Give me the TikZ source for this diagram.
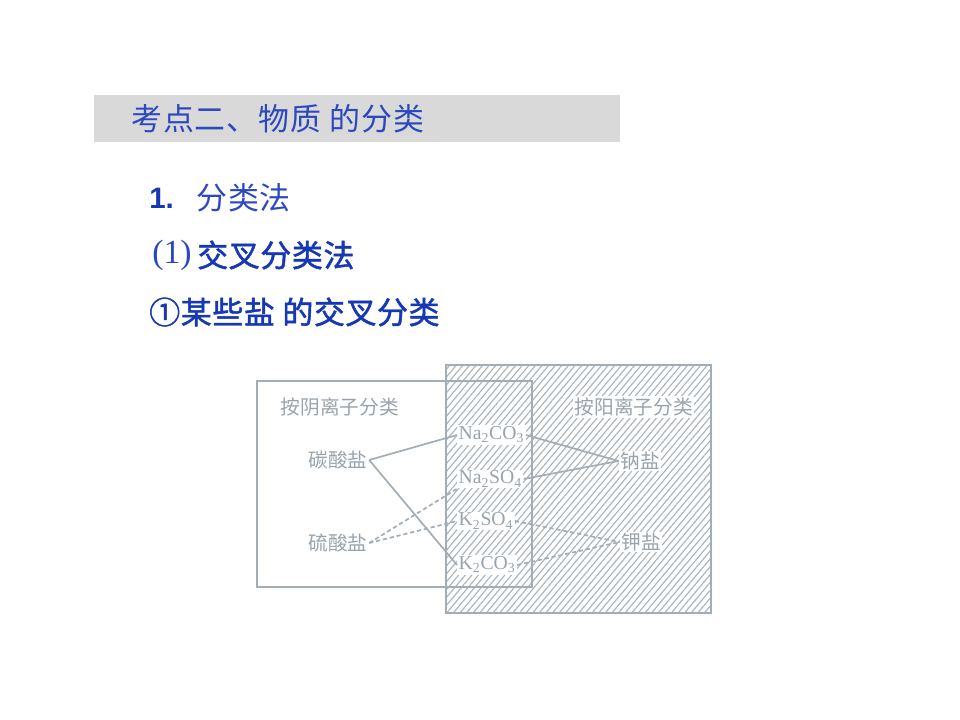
\documentclass[tikz,border=0pt]{standalone}
\usepackage{fontspec}
\setmainfont{Liberation Serif}
\newfontfamily\cjk[LetterSpace=3]{Noto Sans CJK SC}
\newfontfamily\cjkb[LetterSpace=2,FakeBold=1.6]{Noto Sans CJK SC}
\newfontfamily\cjkd{Noto Sans CJK SC}
\newfontfamily\arial{Liberation Sans}
\usetikzlibrary{patterns.meta}
\definecolor{hdr}{HTML}{D9D9D9}
\definecolor{tblue}{HTML}{2B48BF}
\definecolor{bblue}{HTML}{1638B4}
\definecolor{dg}{HTML}{A2ADB6}
\definecolor{hg}{HTML}{A9B3BB}
\definecolor{dtext}{HTML}{98A4AD}
\tikzset{
  headtext/.style={anchor=west, text=tblue, inner sep=0pt, font=\cjk\fontsize{22}{26}\selectfont},
  boldtext/.style={anchor=west, text=bblue, inner sep=0pt, font=\cjkb\fontsize{22}{26}\selectfont},
  lbl/.style={text=dtext, font=\cjkd\fontsize{14}{16}\selectfont, fill=white, inner sep=1pt},
  chem/.style={anchor=west, text=dtext, font=\fontsize{14}{16}\selectfont, fill=white, inner sep=1pt},
  conn/.style={draw=dg, line width=1.2pt},
  dconn/.style={conn, dash pattern=on 3pt off 2pt},
}
\begin{document}
\begin{tikzpicture}[x=0.025cm,y=-0.025cm]
\fill[white] (0,0) rectangle (960,720);
\useasboundingbox (0,0) rectangle (960,720);

% header
\fill[hdr] (94,95) rectangle (620,142);
\node[headtext] (title) at (131,119) {考点二、物质 的分类};

% item lines
\node[anchor=west, text=bblue, inner sep=0pt, font=\arial\bfseries\fontsize{21}{25}\selectfont] (n1) at (149,198) {1.};
\node[headtext] (l1) at (196,198) {分类法};
\node[anchor=west, text=tblue, inner sep=0pt, font=\fontsize{24}{28}\selectfont] (p1) at (152,255) {(1)};
\node[boldtext] (l2) at (197,255) {交叉分类法};
\node[boldtext] (l3) at (149,312) {①某些盐 的交叉分类};

% diagram
\fill[pattern={Lines[angle=50,distance=3.6pt,line width=0.8pt]}, pattern color=hg] (446,365) rectangle (711,613);
\draw[dg, line width=1.6pt] (446,365) rectangle (711,613);
\draw[dg, line width=1.2pt] (257,381) rectangle (532,587);

\node[lbl, anchor=west] (lt) at (279,407) {按阴离子分类};
\node[lbl, anchor=west] (rt) at (573,407) {按阳离子分类};
\node[lbl] (carb) at (338,460) {碳酸盐};
\node[lbl] (sulf) at (338,543) {硫酸盐};
\node[lbl] (na) at (640,461) {钠盐};
\node[lbl] (k) at (641,542) {钾盐};

\node[chem] (nco) at (457,435) {Na\textsubscript{2}CO\textsubscript{3}};
\node[chem] (nso) at (457,479) {Na\textsubscript{2}SO\textsubscript{4}};
\node[chem] (kso) at (457,521) {K\textsubscript{2}SO\textsubscript{4}};
\node[chem] (kco) at (457,565) {K\textsubscript{2}CO\textsubscript{3}};

\draw[conn] (carb.east) -- (nco.west);
\draw[conn] (carb.east) -- (kco.west);
\draw[dconn] (sulf.east) -- (nso.south west);
\draw[dconn] (sulf.east) -- (kso.west);
\draw[conn] (nco.east) -- (na.west);
\draw[conn] (nso.east) -- (na.west);
\draw[dconn] (kso.east) -- (k.west);
\draw[dconn] (kco.east) -- (k.west);
\end{tikzpicture}
\end{document}
